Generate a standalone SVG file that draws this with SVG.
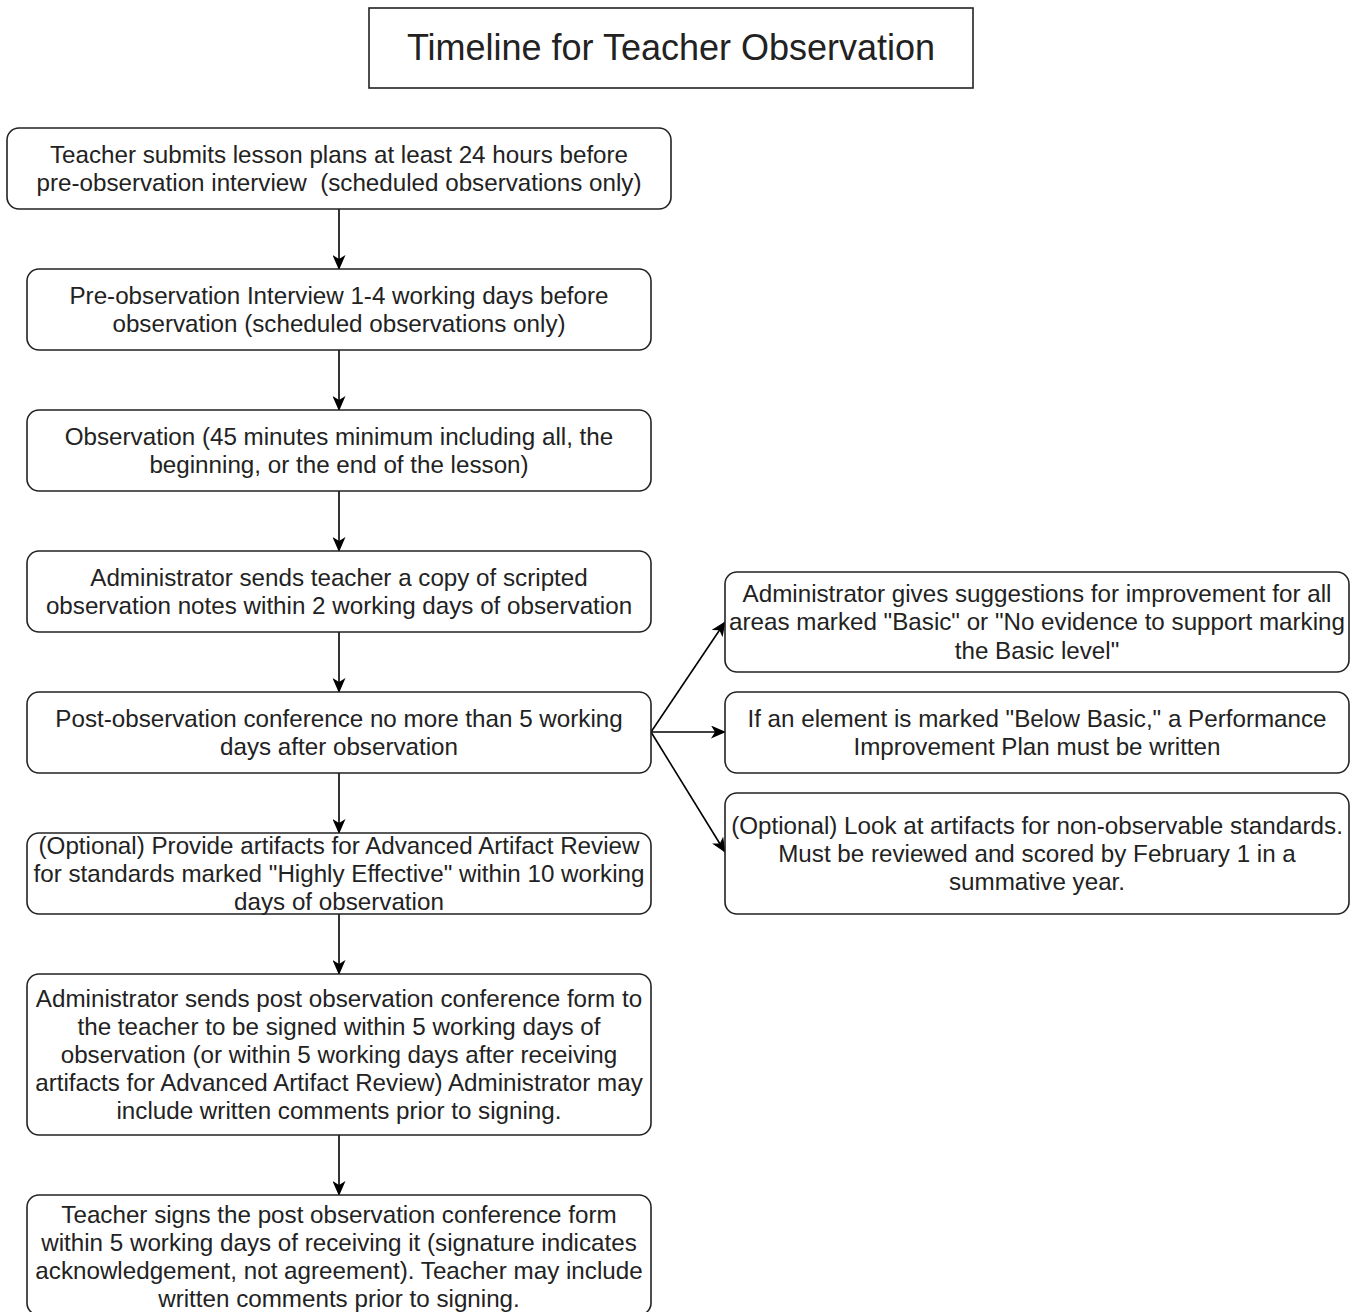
<svg xmlns="http://www.w3.org/2000/svg" width="1357" height="1312" viewBox="0 0 1357 1312">
<defs>
<marker id="arr" viewBox="0 0 15 13" refX="14" refY="6.5" markerWidth="15" markerHeight="13" markerUnits="userSpaceOnUse" orient="auto">
<path d="M0,0 L15,6.5 L0,13 L4,6.5 z" fill="#000"/>
</marker>
<style>
.box{fill:#fff;stroke:#222;stroke-width:1.6}
.t{font-family:"Liberation Sans",Arial,sans-serif;font-size:24.2px;fill:#222;text-anchor:middle}
.title{font-family:"Liberation Sans",Arial,sans-serif;font-size:36px;fill:#222;text-anchor:middle}
.c{stroke:#000;stroke-width:1.6;fill:none;marker-end:url(#arr)}
</style>
</defs>
<rect width="1357" height="1312" fill="#fff"/>
<g id="title">
<rect x="369" y="8" width="604" height="80" fill="#fff" stroke="#222" stroke-width="1.6"/>
<text class="title" x="671" y="60">Timeline for Teacher Observation</text>
</g>
<g id="connectors">
<line class="c" x1="339" y1="209" x2="339" y2="269"/>
<line class="c" x1="339" y1="350" x2="339" y2="410"/>
<line class="c" x1="339" y1="491" x2="339" y2="551"/>
<line class="c" x1="339" y1="632" x2="339" y2="692"/>
<line class="c" x1="339" y1="773" x2="339" y2="833"/>
<line class="c" x1="339" y1="914" x2="339" y2="974"/>
<line class="c" x1="339" y1="1135" x2="339" y2="1195"/>
<line class="c" x1="651" y1="732" x2="725" y2="622"/>
<line class="c" x1="651" y1="732" x2="725" y2="732"/>
<line class="c" x1="651" y1="732" x2="725" y2="852"/>
</g>
<g id="n1">
<rect class="box" x="7" y="128" width="664" height="81" rx="12"/>
<text class="t" x="339" y="163">Teacher submits lesson plans at least 24 hours before</text>
<text class="t" x="339" y="191" xml:space="preserve">pre-observation interview  (scheduled observations only)</text>
</g>
<g id="n2">
<rect class="box" x="27" y="269" width="624" height="81" rx="12"/>
<text class="t" x="339" y="304">Pre-observation Interview 1-4 working days before</text>
<text class="t" x="339" y="332">observation (scheduled observations only)</text>
</g>
<g id="n3">
<rect class="box" x="27" y="410" width="624" height="81" rx="12"/>
<text class="t" x="339" y="445">Observation (45 minutes minimum including all, the</text>
<text class="t" x="339" y="473">beginning, or the end of the lesson)</text>
</g>
<g id="n4">
<rect class="box" x="27" y="551" width="624" height="81" rx="12"/>
<text class="t" x="339" y="586">Administrator sends teacher a copy of scripted</text>
<text class="t" x="339" y="614">observation notes within 2 working days of observation</text>
</g>
<g id="n5">
<rect class="box" x="27" y="692" width="624" height="81" rx="12"/>
<text class="t" x="339" y="727">Post-observation conference no more than 5 working</text>
<text class="t" x="339" y="755">days after observation</text>
</g>
<g id="n6">
<rect class="box" x="27" y="833" width="624" height="81" rx="12"/>
<text class="t" x="339" y="854">(Optional) Provide artifacts for Advanced Artifact Review</text>
<text class="t" x="339" y="882">for standards marked "Highly Effective" within 10 working</text>
<text class="t" x="339" y="910">days of observation</text>
</g>
<g id="n7">
<rect class="box" x="27" y="974" width="624" height="161" rx="12"/>
<text class="t" x="339" y="1007">Administrator sends post observation conference form to</text>
<text class="t" x="339" y="1035">the teacher to be signed within 5 working days of</text>
<text class="t" x="339" y="1063">observation (or within 5 working days after receiving</text>
<text class="t" x="339" y="1091">artifacts for Advanced Artifact Review) Administrator may</text>
<text class="t" x="339" y="1119">include written comments prior to signing.</text>
</g>
<g id="n8">
<rect class="box" x="27" y="1195" width="624" height="120" rx="12"/>
<text class="t" x="339" y="1223">Teacher signs the post observation conference form</text>
<text class="t" x="339" y="1251">within 5 working days of receiving it (signature indicates</text>
<text class="t" x="339" y="1279">acknowledgement, not agreement). Teacher may include</text>
<text class="t" x="339" y="1307">written comments prior to signing.</text>
</g>
<g id="r1">
<rect class="box" x="725" y="572" width="624" height="100" rx="12"/>
<text class="t" x="1037" y="602">Administrator gives suggestions for improvement for all</text>
<text class="t" x="1037" y="630">areas marked "Basic" or "No evidence to support marking</text>
<text class="t" x="1037" y="659">the Basic level"</text>
</g>
<g id="r2">
<rect class="box" x="725" y="692" width="624" height="81" rx="12"/>
<text class="t" x="1037" y="727">If an element is marked "Below Basic," a Performance</text>
<text class="t" x="1037" y="755">Improvement Plan must be written</text>
</g>
<g id="r3">
<rect class="box" x="725" y="793" width="624" height="121" rx="12"/>
<text class="t" x="1037" y="834">(Optional) Look at artifacts for non-observable standards.</text>
<text class="t" x="1037" y="862">Must be reviewed and scored by February 1 in a</text>
<text class="t" x="1037" y="890">summative year.</text>
</g>
</svg>
